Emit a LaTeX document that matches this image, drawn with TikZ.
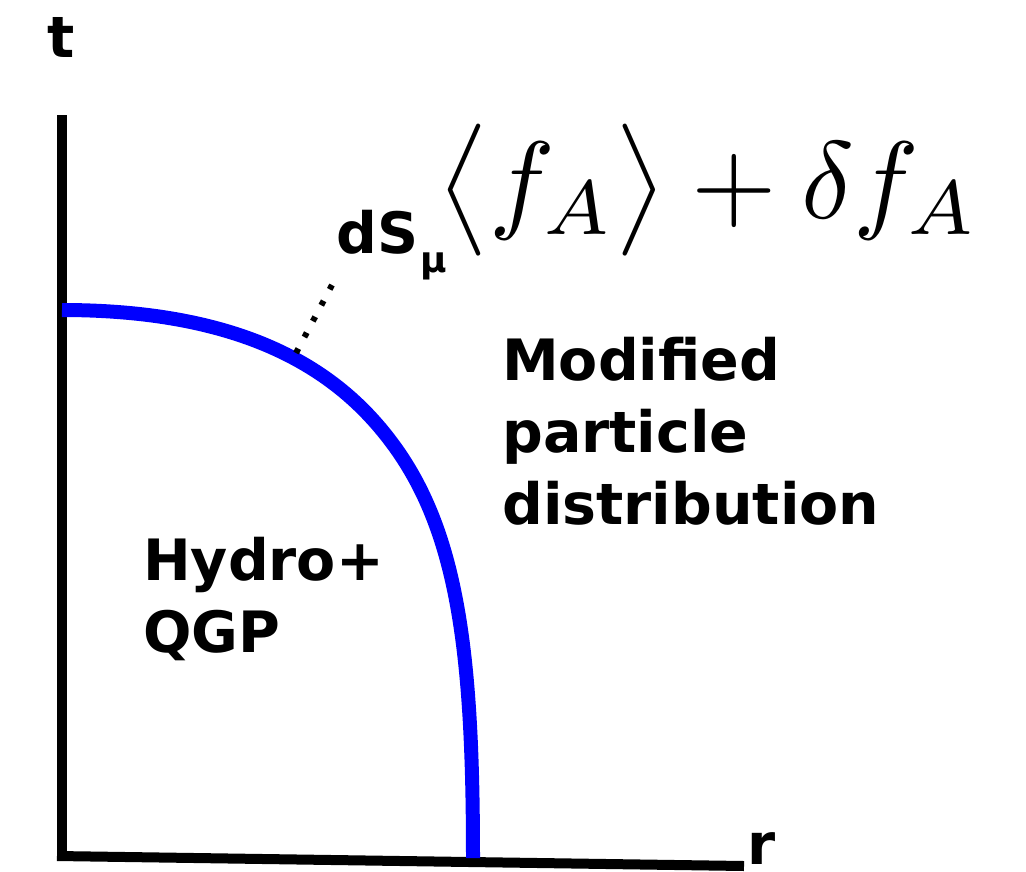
\documentclass[tikz,border=0pt]{standalone}
\usepackage{fontspec}
\setsansfont{DejaVu Sans}
\usepackage{tikz}
\usetikzlibrary{positioning}
\definecolor{frontBlue}{RGB}{0,0,255}

\begin{document}
\begin{tikzpicture}[x=1pt, y=-1pt,
        lbl/.style={font=\sffamily\bfseries\fontsize{57}{72}\selectfont, inner sep=0pt, align=left},
        sub/.style={font=\sffamily\bfseries\fontsize{36}{40}\selectfont, inner sep=0pt},
        axis/.style={line width=10pt},
        front/.style={frontBlue, line width=14pt},
        cell/.style={line width=6pt, dash pattern=on 5pt off 13pt}]
        \useasboundingbox (0,0) rectangle (1026,871);
        % axes
        \coordinate (top) at (62,115);
        \coordinate (o)   at (62,860);
        \coordinate (ol)  at (57,856);
        \coordinate (re)  at (744,866);
        \draw[axis] (top) -- (o);
        \draw[axis] (ol) -- (re);
        \node[lbl, anchor=base west] (t) at (47,57)  {t};
        \node[lbl, anchor=base west] (r) at (747,864) {r};
        % freeze-out surface
        \coordinate (fs0) at (62,310);
        \coordinate (fs1) at (395,447);
        \coordinate (fs2) at (473,858);
        \draw[front] (fs0) .. controls (262,310) and (348,382) .. (fs1)
            .. controls (459,536) and (473,658) .. (fs2);
        \coordinate (ds) at (296,353);
        \coordinate (de) at (332,285);
        \node[lbl, anchor=base west] (dS) at (336,253) {dS};
        \node[sub, anchor=base west] (mu) at (dS.base east) [xshift=2pt, yshift=-19pt] {μ};
        \draw[cell] (ds) -- (de);
        \node[scale=11, anchor=base west, inner sep=0pt] (f) at (435,218)
            {$\bigl\langle f_A\bigr\rangle+\delta f_A$};
        % regions
        \node[lbl, anchor=base west] (out) at (502,524) {Modified\\particle\\distribution};
        \node[lbl, anchor=base west] (in)  at (143,652) {Hydro+\\QGP};
    \end{tikzpicture}
\end{document}
